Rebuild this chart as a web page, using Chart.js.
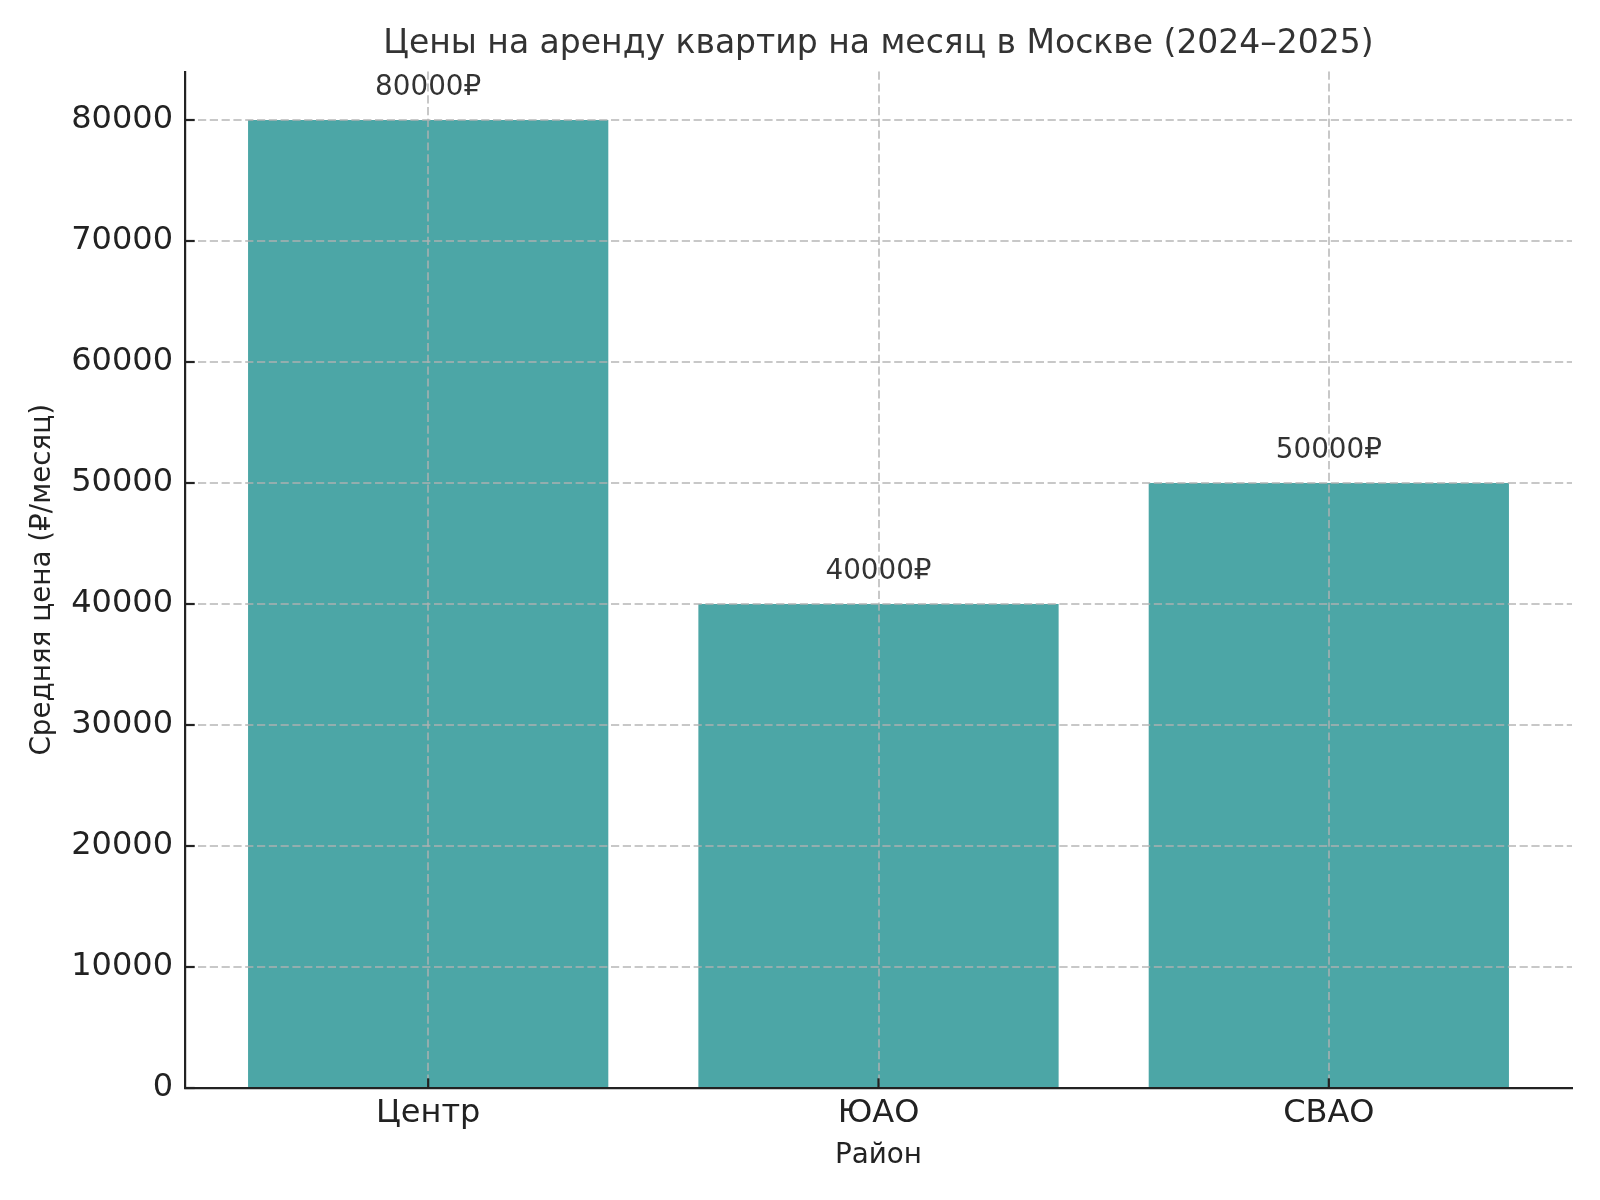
<!DOCTYPE html>
<html>
<head>
<meta charset="utf-8">
<script src="https://cdn.jsdelivr.net/npm/chart.js@4"></script>
<style>
  html, body { margin: 0; padding: 0; background: #fff; }
  #wrap { width: 1600px; height: 1200px; }
</style>
</head>
<body>
<div id="wrap"><canvas id="c" width="1600" height="1200"></canvas></div>
<script>
const categories = ["Центр", "ЮАО", "СВАО"];
const prices = [80000, 40000, 50000];
const yTicks = [0, 10000, 20000, 30000, 40000, 50000, 60000, 70000, 80000];
const titleText = "Цены на аренду квартир на месяц в Москве (2024–2025)";
const xTitle = "Район";
const yTitle = "Средняя цена (₽/месяц)";
const valueSuffix = "₽";

const FONT = "'DejaVu Sans', sans-serif";
const AXIS_COLOR = "#222";
const GRID_COLOR = "rgba(176,176,176,0.7)";

const barData = categories.map((c, i) => ({ x: i, y: prices[i] }));

const innerTicks = {
  id: "innerTicks",
  afterDraw(chart) {
    const ctx = chart.ctx;
    const xs = chart.scales.x, ys = chart.scales.y;
    const area = chart.chartArea;
    ctx.save();
    ctx.strokeStyle = AXIS_COLOR;
    ctx.lineWidth = 2.2;
    ctx.setLineDash([]);
    ys.ticks.forEach(t => {
      const y = ys.getPixelForValue(t.value);
      ctx.beginPath();
      ctx.moveTo(area.left, y);
      ctx.lineTo(area.left + 9.7, y);
      ctx.stroke();
    });
    xs.ticks.forEach(t => {
      const x = xs.getPixelForValue(t.value);
      ctx.beginPath();
      ctx.moveTo(x, area.bottom);
      ctx.lineTo(x, area.bottom - 9.7);
      ctx.stroke();
    });
    // value labels
    ctx.fillStyle = "#333";
    ctx.font = "27.8px " + FONT;
    ctx.textAlign = "center";
    ctx.textBaseline = "alphabetic";
    prices.forEach((v, i) => {
      const x = xs.getPixelForValue(i);
      const y = ys.getPixelForValue(v) - 25;
      ctx.fillText(v + valueSuffix, x, y);
    });
    ctx.restore();
  }
};

new Chart(document.getElementById("c"), {
  type: "bar",
  data: {
    datasets: [{
      data: barData,
      backgroundColor: "rgba(0,128,128,0.7)",
      borderWidth: 0,
      barPercentage: 0.8,
      categoryPercentage: 1.0
    }]
  },
  options: {
    responsive: false,
    animation: false,
    devicePixelRatio: 1,
    layout: { padding: { left: 0, right: 28, top: 0, bottom: 0 } },
    plugins: {
      legend: { display: false },
      tooltip: { enabled: false },
      title: {
        display: true,
        text: titleText,
        fullSize: false,
        color: "#333",
        font: { family: FONT, size: 33, weight: "normal", lineHeight: 1.2 },
        padding: { top: 25, bottom: 7 }
      }
    },
    scales: {
      x: {
        type: "linear",
        min: -0.54,
        max: 2.54,
        offset: false,
        afterBuildTicks(scale) {
          scale.ticks = categories.map((c, i) => ({ value: i }));
        },
        afterFit(scale) { scale.height = 112; },
        ticks: {
          color: AXIS_COLOR,
          font: { family: FONT, size: 32 },
          padding: 6,
          maxRotation: 0,
          autoSkip: false,
          callback: (v) => categories[v] !== undefined ? categories[v] : ""
        },
        grid: {
          color: GRID_COLOR,
          lineWidth: 2,
          offset: false,
          drawTicks: false,
          z: 1
        },
        border: { display: true, color: AXIS_COLOR, width: 2.2, dash: [8.2, 3.6], dashOffset: 0, z: 2 },
        title: {
          display: true,
          text: xTitle,
          color: AXIS_COLOR,
          font: { family: FONT, size: 27.8, lineHeight: 1.2 },
          padding: { top: 0, bottom: 28 }
        }
      },
      y: {
        type: "linear",
        min: 0,
        max: 84000,
        afterBuildTicks(scale) {
          scale.ticks = yTicks.map(v => ({ value: v }));
        },
        afterFit(scale) { scale.width = 185; },
        ticks: {
          color: AXIS_COLOR,
          font: { family: FONT, size: 32 },
          padding: 12,
          includeBounds: false,
          callback: (v) => String(v)
        },
        grid: {
          color: (ctx) => (ctx.tick && ctx.tick.value === 0) ? "rgba(0,0,0,0)" : GRID_COLOR,
          lineWidth: 2,
          drawTicks: false,
          z: 1
        },
        border: { display: true, color: AXIS_COLOR, width: 2.2, dash: [8.2, 3.6], dashOffset: 0, z: 2 },
        title: {
          display: true,
          text: yTitle,
          color: AXIS_COLOR,
          font: { family: FONT, size: 27.8, lineHeight: 1.2 },
          padding: { top: 26, bottom: 0 }
        }
      }
    }
  },
  plugins: [innerTicks]
});
</script>
</body>
</html>
